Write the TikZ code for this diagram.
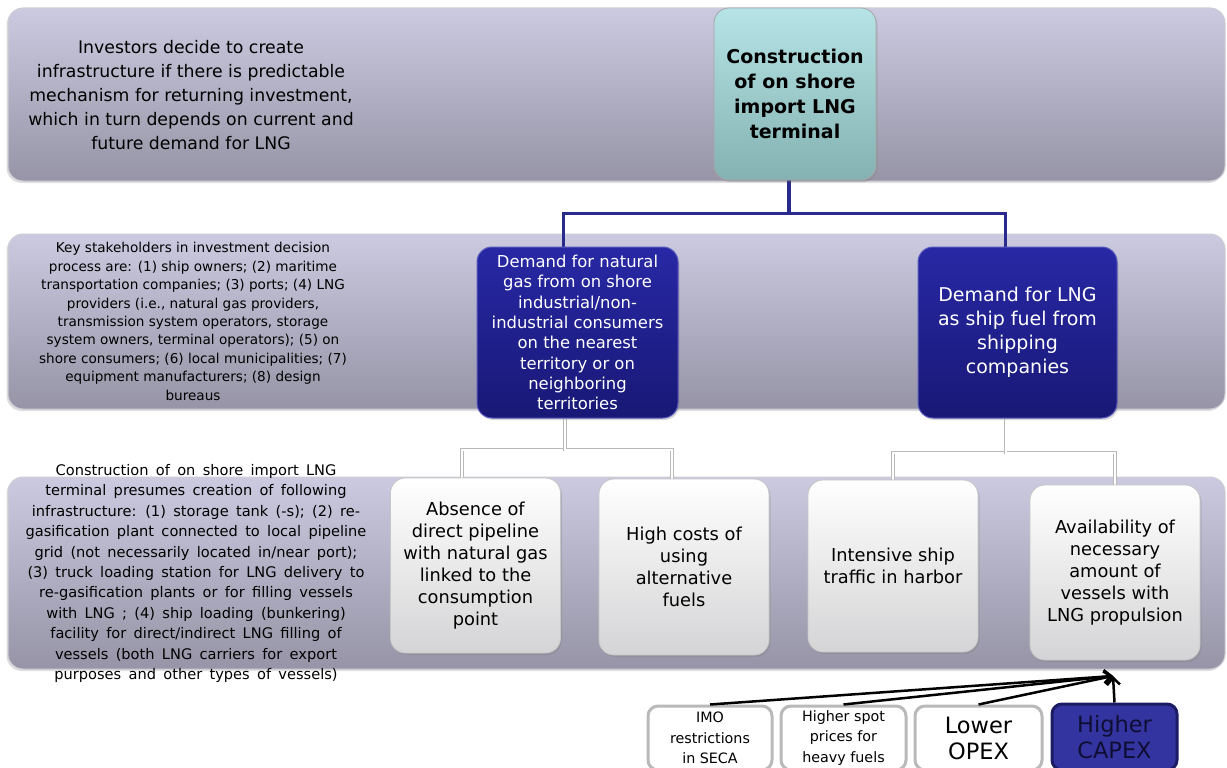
\documentclass[tikz,border=0pt]{standalone}
\usepackage{fontspec}
\setmainfont{DejaVu Sans}
\usetikzlibrary{arrows.meta,shadows}
\definecolor{bandtop}{RGB}{203,202,224}
\definecolor{bandbot}{RGB}{150,148,166}
\definecolor{bandline}{RGB}{205,205,212}
\definecolor{tealtop}{RGB}{182,228,230}
\definecolor{tealbot}{RGB}{132,178,178}
\definecolor{bluetop}{RGB}{40,40,165}
\definecolor{bluebot}{RGB}{24,24,118}
\definecolor{blueline}{RGB}{90,90,190}
\definecolor{conblue}{RGB}{42,42,140}
\definecolor{whitebot}{RGB}{212,212,214}
\definecolor{boxgray}{RGB}{185,185,185}
\definecolor{capexfill}{RGB}{52,52,160}
\definecolor{capexline}{RGB}{28,28,100}
\definecolor{capextext}{RGB}{14,14,52}
\newcommand\widesp{\spaceskip=0.5em plus 0.1em minus 0.05em\relax}
\pgfdeclarelayer{bg}
\pgfdeclarelayer{mid}
\pgfsetlayers{bg,mid,main}
\begin{document}
\begin{tikzpicture}[x=1pt,y=-1pt,
  band/.style={draw=bandline, line width=1pt, rounded corners=15pt, top color=bandtop, bottom color=bandbot, minimum width=1217pt, inner sep=0pt,
     drop shadow={opacity=0.25, shadow xshift=-1.5pt, shadow yshift=-2pt}},
  bandtext/.style={align=center, text=black, inner sep=0pt},
  tealbox/.style={draw=gray!70, line width=0.8pt, rounded corners=15pt, top color=tealtop, bottom color=tealbot, inner sep=0pt,
     minimum width=162pt, minimum height=172pt, align=center, font=\bfseries\fontsize{19}{25}\selectfont,
     drop shadow={opacity=0.3, shadow xshift=1.5pt, shadow yshift=-2pt}},
  bluebox/.style={draw=blueline, line width=1pt, rounded corners=15pt, top color=bluetop, bottom color=bluebot, inner sep=0pt,
     minimum height=171pt, align=center, text=white,
     drop shadow={opacity=0.3, shadow xshift=1.5pt, shadow yshift=-2pt}},
  whitebox/.style={draw=gray!45, line width=0.8pt, rounded corners=15pt, top color=white, bottom color=whitebot, inner sep=0pt,
     minimum width=170pt, align=center, text=black, font=\fontsize{17.8}{22}\selectfont,
     drop shadow={opacity=0.3, shadow xshift=1.5pt, shadow yshift=-2pt}},
  factor/.style={draw=boxgray, line width=3pt, rounded corners=10pt, fill=white, inner sep=0pt,
     minimum width=124pt, minimum height=64pt, align=center, text=black},
  bluecon/.style={draw=conblue, line width=3.5pt},
  graycon/.style={draw=gray!55, double=white, double distance=2pt, line width=0.8pt},
  arr/.style={draw=black, line width=2.5pt, -{Straight Barb[length=7pt,width=13pt,line width=2.5pt]}}
]
\useasboundingbox (0,0) rectangle (1227,768);

% bands
\begin{pgfonlayer}{bg}
\node[band, minimum height=173pt] (band1) at (616.5,94.5) {};
\node[band, minimum height=175pt] (band2) at (616.5,321.5) {};
\node[band, minimum height=192pt] (band3) at (616.5,573) {};
\end{pgfonlayer}

% band texts
\node[bandtext, font=\fontsize{17.3}{24}\selectfont] (t1) at (191,95)
 {Investors decide to create\\infrastructure if there is predictable\\mechanism for returning investment,\\which in turn depends on current and\\future demand for LNG};
\node[bandtext, font=\fontsize{13.6}{18.4}\selectfont] (t2) at (193,321.5)
 {Key stakeholders in investment decision\\process are: (1) ship owners; (2) maritime\\transportation companies; (3) ports; (4) LNG\\providers (i.e., natural gas providers,\\transmission system operators, storage\\system owners, terminal operators); (5) on\\shore consumers; (6) local municipalities; (7)\\equipment manufacturers; (8) design\\bureaus};
\node[bandtext, font=\fontsize{14.6}{20.4}\selectfont\widesp] (t3) at (196,573.5)
 {Construction of on shore import LNG\\terminal presumes creation of following\\infrastructure: (1) storage tank (-s); (2) re-\\gasification plant connected to local pipeline\\grid (not necessarily located in/near port);\\(3) truck loading station for LNG delivery to\\re-gasification plants or for filling vessels\\with LNG ; (4) ship loading (bunkering)\\facility for direct/indirect LNG filling of\\vessels (both LNG carriers for export\\purposes and other types of vessels)};

% main boxes
\node[tealbox] (top) at (795,94) {Construction\\of on shore\\import LNG\\terminal};
\node[bluebox, minimum width=201pt, font=\fontsize{16.4}{20.3}\selectfont] (m1) at (577.5,332.5)
 {Demand for natural\\gas from on shore\\industrial/non-\\industrial consumers\\on the nearest\\territory or on\\neighboring\\territories};
\node[bluebox, minimum width=199pt, font=\fontsize{19}{24}\selectfont] (m2) at (1017.5,332.5)
 {Demand for LNG\\as ship fuel from\\shipping\\companies};

\node[whitebox, minimum height=175pt] (l1) at (475.5,565.5)
 {Absence of\\direct pipeline\\with natural gas\\linked to the\\consumption\\point};
\node[whitebox, minimum height=176pt] (l2) at (684,567)
 {High costs of\\using\\alternative\\fuels};
\node[whitebox, minimum height=172pt] (l3) at (893,566)
 {Intensive ship\\traffic in harbor};
\node[whitebox, minimum height=175pt] (l4) at (1115,572.5)
 {Availability of\\necessary\\amount of\\vessels with\\LNG propulsion};

% connectors
\begin{pgfonlayer}{mid}
\draw[bluecon] ([xshift=-6pt]top.south) -- ++(0,33) -| ([xshift=-14pt]m1.north);
\draw[bluecon] ([xshift=-6pt]top.south) -- ++(0,33) -| ([xshift=-12pt]m2.north);
\draw[graycon] ([xshift=-12.5pt]m1.south) -- ++(0,31) -| ([xshift=-13.5pt]l1.north);
\draw[graycon] ([xshift=-12.5pt]m1.south) -- ++(0,31) -| ([xshift=-12pt]l2.north);
\draw[graycon] ([xshift=-12pt]m2.south) -- ++(0,34) -| (l3.north);
\draw[graycon] ([xshift=-12pt]m2.south) -- ++(0,34) -| (l4.north);
\end{pgfonlayer}

% factor boxes
\node[factor, font=\fontsize{14.3}{20.5}\selectfont] (b1) at (710,738) {IMO\\restrictions\\in SECA};
\node[factor, minimum width=125pt, font=\fontsize{14.3}{20.5}\selectfont] (b2) at (843.5,738) {Higher spot\\prices for\\heavy fuels};
\node[factor, minimum width=127pt, font=\fontsize{22.5}{26}\selectfont] (b3) at (978.5,738) {Lower\\OPEX};
\node[factor, draw=capexline, fill=capexfill, text=capextext, minimum width=125pt, minimum height=66pt, font=\fontsize{22.5}{26}\selectfont] (b4) at (1114.5,737) {Higher\\CAPEX};

\coordinate (tip) at (1113,676);
\draw[arr] (b1.north) -- (tip);
\draw[arr] (b2.north) -- (tip);
\draw[arr] (b3.north) -- (tip);
\draw[arr] (b4.north) -- (tip);
\end{tikzpicture}
\end{document}
